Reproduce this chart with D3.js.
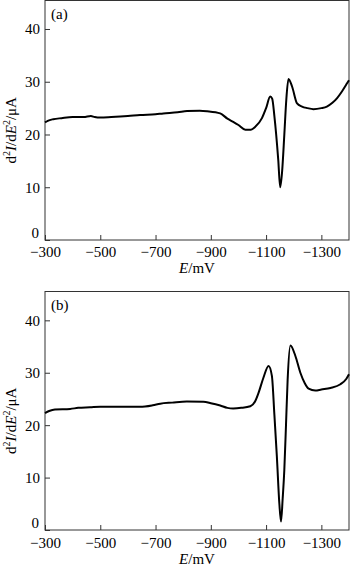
<!DOCTYPE html>
<html><head><meta charset="utf-8">
<script src="https://cdn.jsdelivr.net/npm/d3@7"></script>
<style>body{margin:0;background:#fff}svg{display:block}text{font-family:"Liberation Serif","Times New Roman",serif;fill:#000}</style>
</head><body>
<script>
const xTicks = [-300, -500, -700, -900, -1100, -1300];
const yTicks = [0, 10, 20, 30, 40];
const eA = [-300,-310,-330,-360,-400,-440,-466,-480,-500,-540,-600,-644,-700,-728,-780,-814,-860,-887,-934,-960,-981,-1000,-1025,-1045,-1060,-1085,-1100,-1115,-1122,-1130,-1144,-1151,-1158,-1166,-1173,-1181,-1194,-1212,-1230,-1250,-1271,-1300,-1320,-1340,-1357,-1375,-1393,-1400];
const dA = [22.3,22.6,22.9,23.1,23.3,23.3,23.5,23.3,23.2,23.3,23.5,23.7,23.85,24.0,24.2,24.45,24.5,24.4,24.0,23.0,22.4,21.8,20.9,20.9,21.4,23.1,25.0,27.2,26.8,23.5,15.2,10.0,13.0,20.0,26.5,30.5,29.1,25.9,25.3,25.0,24.8,25.0,25.3,26.0,26.9,28.2,29.7,30.3];
const eB = [-300,-315,-336,-391,-420,-463,-500,-644,-690,-717,-760,-813,-873,-900,-934,-960,-981,-1010,-1043,-1060,-1073,-1090,-1109,-1121,-1130,-1139,-1148,-1154,-1160,-1166,-1172,-1178,-1188,-1206,-1224,-1240,-1254,-1278,-1300,-1333,-1369,-1390,-1400];
const dB = [22.3,22.7,23.0,23.1,23.3,23.4,23.5,23.5,23.8,24.1,24.3,24.5,24.45,24.2,23.75,23.3,23.2,23.3,23.6,24.5,26.2,29.0,31.3,29.4,22.0,14.0,5.0,1.6,6.0,11.5,20.0,28.7,35.2,33.2,30.0,28.0,26.95,26.6,26.8,27.1,27.8,28.8,29.7];

const W = 350, H = 566;
const svg = d3.select("body").append("svg").attr("width", W).attr("height", H);

function panel(top, bottom, yMax, E, D, tag, tickY, labY) {
  const x = d3.scaleLinear().domain([-300, -1400]).range([45, 349]);
  const y = d3.scaleLinear().domain([0, yMax]).range([bottom, top]);
  const g = svg.append("g");
  g.append("rect").attr("x", 45).attr("y", top).attr("width", 304).attr("height", bottom - top)
    .attr("fill", "none").attr("stroke", "#333").attr("stroke-width", 1);
  const xa = g.append("g").attr("transform", `translate(0,${bottom})`)
    .call(d3.axisBottom(x).tickValues(xTicks).tickSizeInner(-5).tickSizeOuter(0).tickFormat(d => "\u2212" + Math.abs(d)));
  xa.select(".domain").remove();
  xa.selectAll("line").attr("stroke", "#333");
  xa.selectAll("text").attr("font-size", 15).attr("y", tickY - bottom).attr("dy", 0);
  const ya = g.append("g").attr("transform", "translate(45,0)")
    .call(d3.axisLeft(y).tickValues(yTicks).tickSizeInner(-5).tickSizeOuter(0));
  ya.select(".domain").remove();
  ya.selectAll("line").attr("stroke", "#333");
  ya.selectAll("text").attr("font-size", 15).attr("x", -5).attr("dy", "0.33em");
  ya.selectAll(".tick").filter(d => d === 0).select("text").attr("x", -6).attr("y", -3).attr("dy", 0);
  const pts = E.map((e, i) => [e, D[i]]);
  g.append("path").datum(pts)
    .attr("d", d3.line().x(d => x(d[0])).y(d => y(d[1])).curve(d3.curveMonotoneX))
    .attr("fill", "none").attr("stroke", "#000").attr("stroke-width", 2);
  g.append("text").attr("x", 51).attr("y", top + 18).attr("font-size", 15).text(tag);
  const xl = g.append("text").attr("x", 197).attr("y", labY).attr("text-anchor", "middle").attr("font-size", 15);
  xl.append("tspan").attr("font-style", "italic").text("E");
  xl.append("tspan").text("/mV");
  const cy = (top + bottom) / 2 + 10;
  const yl = g.append("text").attr("transform", `translate(16,${cy}) rotate(-90)`).attr("text-anchor", "middle").attr("font-size", 15);
  yl.append("tspan").text("d");
  yl.append("tspan").attr("font-size", 10).attr("dy", -6).text("2");
  yl.append("tspan").attr("font-style", "italic").attr("dy", 6).text("I");
  yl.append("tspan").text("/d");
  yl.append("tspan").attr("font-style", "italic").text("E");
  yl.append("tspan").attr("font-size", 10).attr("dy", -6).text("2");
  yl.append("tspan").attr("dy", 6).text("/\u03bcA");
}

panel(0.5, 240, 45.4, eA, dA, "(a)", 257, 273);
panel(291.5, 530, 45.5, eB, dB, "(b)", 548, 564);
</script>
</body></html>
